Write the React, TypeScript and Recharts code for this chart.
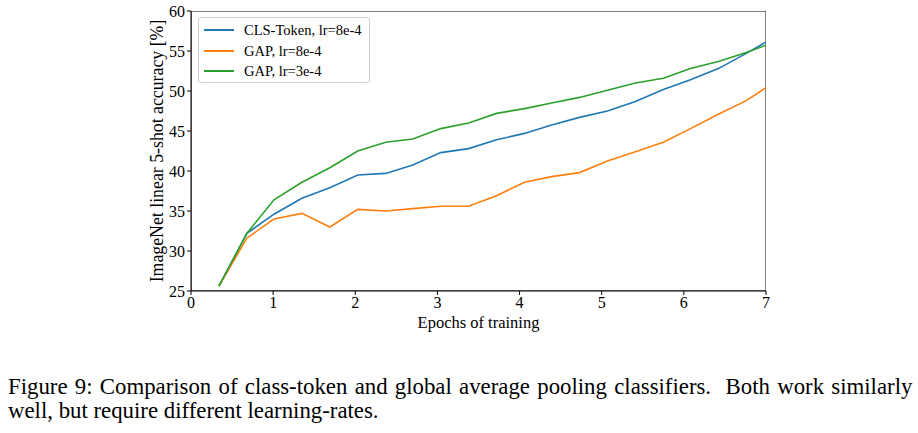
import React from "react";
import { LineChart, Line, XAxis, YAxis, Label, ReferenceArea } from "recharts";

// epochs (last point sits just past the axis limit and is clipped)
const epochs = [
  0.34, 0.68, 1.01, 1.35, 1.69, 2.03, 2.37, 2.7, 3.04, 3.38, 3.72, 4.06, 4.39,
  4.73, 5.07, 5.41, 5.75, 6.08, 6.42, 6.76, 7.1,
];
const clsToken = [
  25.6, 32.2, 34.6, 36.6, 37.9, 39.5, 39.7, 40.75, 42.3, 42.8, 43.9, 44.7,
  45.75, 46.7, 47.5, 48.7, 50.2, 51.4, 52.8, 54.7, 56.7,
];
const gapHigh = [
  25.6, 31.6, 34.0, 34.7, 33.0, 35.2, 35.0, 35.3, 35.6, 35.6, 36.9, 38.6,
  39.3, 39.8, 41.25, 42.4, 43.6, 45.3, 47.1, 48.8, 51.1,
];
const gapLow = [
  25.6, 32.2, 36.4, 38.6, 40.4, 42.5, 43.6, 44.0, 45.3, 46.0, 47.2, 47.8,
  48.5, 49.2, 50.1, 51.0, 51.6, 52.8, 53.7, 54.8, 56.1,
];
const xTicks = [0, 1, 2, 3, 4, 5, 6, 7];
const yTicks = [25, 30, 35, 40, 45, 50, 55, 60];

const series = [
  { key: "cls", name: "CLS-Token, lr=8e-4", color: "#1f77b4" },
  { key: "gap8", name: "GAP, lr=8e-4", color: "#ff7f0e" },
  { key: "gap3", name: "GAP, lr=3e-4", color: "#2ca02c" },
];

const data = epochs.map((e, i) => ({
  epoch: e,
  cls: clsToken[i],
  gap8: gapHigh[i],
  gap3: gapLow[i],
}));

const FONT = "'Liberation Serif', 'Times New Roman', serif";

const LegendBox = () => (
  <div
    style={{
      position: "absolute",
      left: 198,
      top: 17,
      width: 172,
      height: 66,
      boxSizing: "border-box",
      border: "1px solid #d0d0d0",
      borderRadius: 3,
      background: "rgba(255,255,255,0.8)",
      padding: "2px 0 0 5px",
      fontFamily: FONT,
      fontSize: 14.5,
      lineHeight: "20.5px",
      color: "#000",
    }}
  >
    {series.map((s) => (
      <div key={s.key} style={{ display: "flex", alignItems: "center" }}>
        <span
          style={{
            display: "inline-block",
            width: 30,
            height: 2,
            background: s.color,
            marginRight: 10,
          }}
        />
        <span>{s.name}</span>
      </div>
    ))}
  </div>
);

export default function App() {
  return (
    <div
      style={{
        position: "absolute",
        left: 0,
        top: 0,
        width: 918,
        height: 433,
        background: "#fff",
      }}
    >
      <LineChart
        width={918}
        height={340}
        data={data}
        margin={{ top: 11, right: 152, left: 0, bottom: 0 }}
      >
        <XAxis
          dataKey="epoch"
          type="number"
          domain={[0, 7]}
          ticks={xTicks}
          allowDataOverflow
          height={49}
          tickSize={4}
          tickMargin={2}
          stroke="#000"
          tick={{ fill: "#000", fontFamily: FONT, fontSize: 16 }}
        >
          <Label
            value="Epochs of training"
            position="insideBottom"
            offset={12}
            style={{ fill: "#000", fontFamily: FONT, fontSize: 16.5 }}
          />
        </XAxis>
        <YAxis
          type="number"
          domain={[25, 60]}
          ticks={yTicks}
          allowDataOverflow
          width={191}
          tickSize={4}
          tickMargin={2}
          stroke="#000"
          tick={{ fill: "#000", fontFamily: FONT, fontSize: 16 }}
        >
          <Label
            content={(props: any) => {
              const vb = props.viewBox || {};
              const cy = (vb.y || 0) + (vb.height || 0) / 2;
              return (
                <text
                  transform={`translate(157,${cy}) rotate(-90)`}
                  textAnchor="middle"
                  dominantBaseline="central"
                  style={{ fill: "#000", fontFamily: FONT, fontSize: 17.8 }}
                >
                  ImageNet linear 5-shot accuracy [%]
                </text>
              );
            }}
          />
        </YAxis>
        <ReferenceArea
          x1={0}
          x2={7}
          y1={25}
          y2={60}
          fill="none"
          stroke="#000"
          strokeWidth={1}
          ifOverflow="hidden"
        />
        {series.map((s) => (
          <Line
            key={s.key}
            dataKey={s.key}
            name={s.name}
            stroke={s.color}
            strokeWidth={1.6}
            dot={false}
            type="linear"
            isAnimationActive={false}
          />
        ))}
      </LineChart>
      <LegendBox />
      <div
        style={{
          position: "absolute",
          left: 8,
          top: 375,
          width: 952,
          transform: "scaleX(0.95)",
          transformOrigin: "0 0",
          fontFamily: FONT,
          fontSize: 24,
          lineHeight: "23.5px",
          color: "#000",
        }}
      >
        <div
          style={{
            textAlign: "justify",
            textAlignLast: "justify",
            whiteSpace: "nowrap",
          }}
        >
          Figure 9: Comparison of class-token and global average pooling
          classifiers.&nbsp; Both work similarly
        </div>
        <div>well, but require different learning-rates.</div>
      </div>
    </div>
  );
}
